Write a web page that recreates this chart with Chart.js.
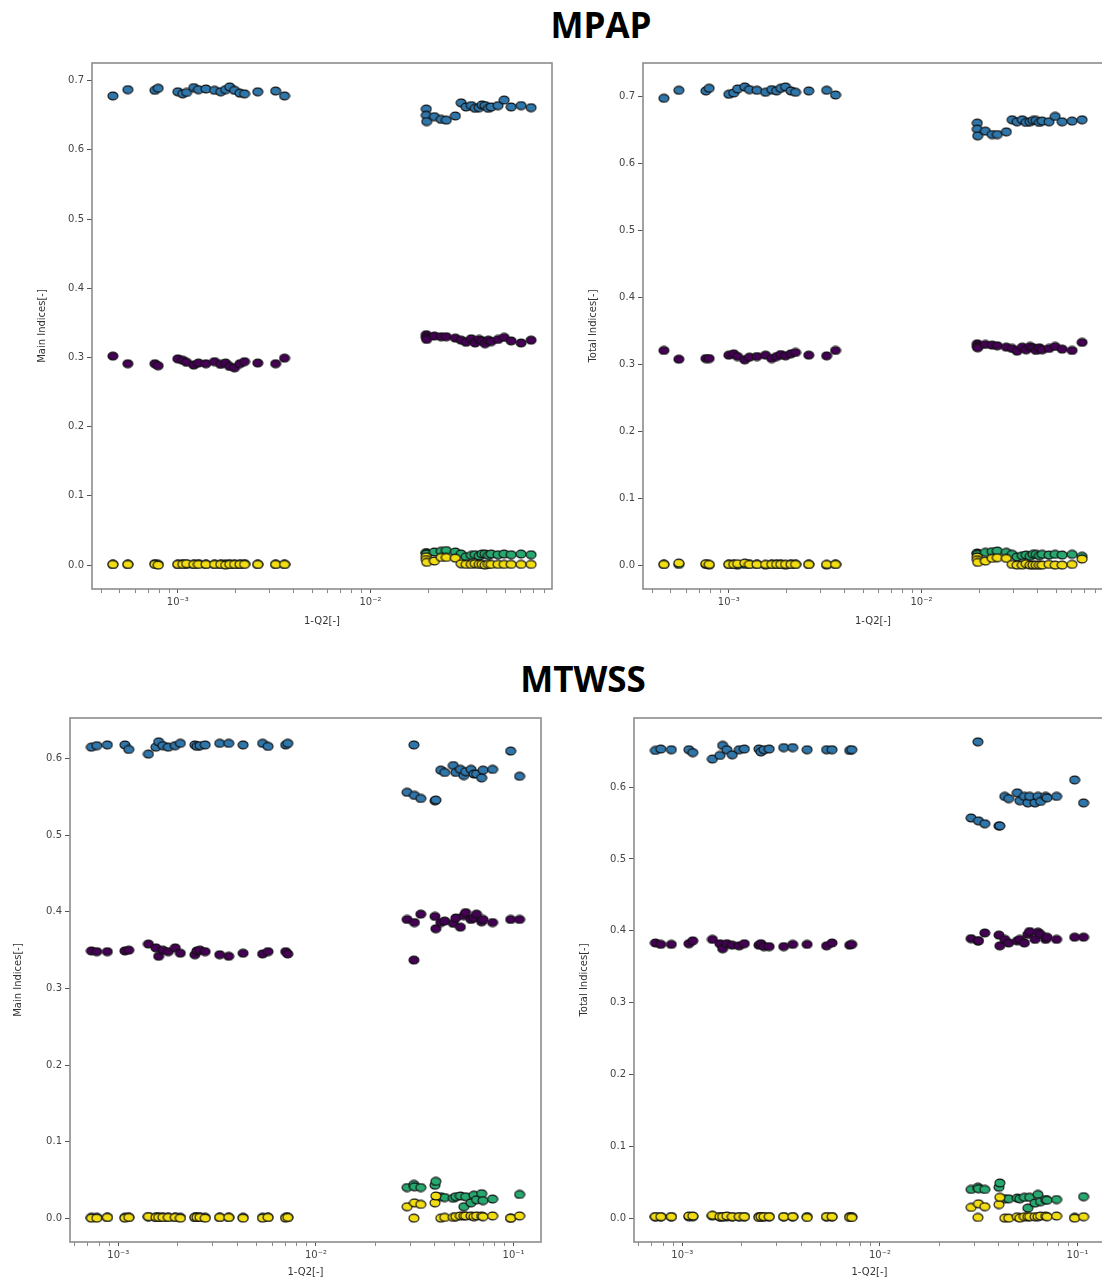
<!DOCTYPE html>
<html>
<head>
<meta charset="utf-8">
<script src="https://cdn.jsdelivr.net/npm/chart.js@4/dist/chart.umd.min.js"></script>
<style>
  html, body { margin: 0; padding: 0; width: 1102px; height: 1279px; overflow: hidden; background: #fff; }
  .title { position: absolute; font-family: 'Open Sans', sans-serif; font-weight: 700; font-size: 35px;
           line-height: 1; white-space: nowrap; transform: translateX(-50%); color: #000; }
  canvas { position: absolute; }
</style>
</head>
<body>
<div class="title" style="left:601px; top:7px;">MPAP</div>
<div class="title" style="left:583px; top:661px;">MTWSS</div>
<canvas id="mpapMainChart"   width="528" height="581" style="left:32px;  top:50px;"></canvas>
<canvas id="mpapTotalChart"  width="528" height="581" style="left:583px; top:50px;"></canvas>
<canvas id="mtwssMainChart"  width="541" height="577" style="left:8px;   top:705px;"></canvas>
<canvas id="mtwssTotalChart" width="539" height="577" style="left:574px; top:705px;"></canvas>
<script>
// ---------------- MPAP: 1-Q2 of each surrogate model ----------------
const mpapQ = [
  4.6e-4, 5.5e-4, 7.6e-4, 7.9e-4, 1.00e-3, 1.06e-3, 1.11e-3, 1.21e-3, 1.28e-3, 1.40e-3,
  1.55e-3, 1.67e-3, 1.77e-3, 1.86e-3, 1.97e-3, 2.10e-3, 2.22e-3, 2.60e-3, 3.22e-3, 3.58e-3,
  0.0195, 0.0195, 0.0196, 0.0215, 0.0233, 0.0248, 0.0276, 0.0296, 0.0314, 0.0334,
  0.0350, 0.0367, 0.0380, 0.0394, 0.0410, 0.0424, 0.0460, 0.0495, 0.0538, 0.0606, 0.0683
];
// MPAP main (first-order) indices, one array per input parameter
const mpapMainA = [
  0.302, 0.291, 0.291, 0.288, 0.298, 0.296, 0.293, 0.289, 0.292, 0.291,
  0.294, 0.290, 0.292, 0.287, 0.285, 0.291, 0.294, 0.292, 0.291, 0.299,
  0.333, 0.329, 0.326, 0.331, 0.330, 0.330, 0.328, 0.325, 0.322, 0.327,
  0.321, 0.326, 0.324, 0.320, 0.325, 0.323, 0.326, 0.329, 0.324, 0.321, 0.325
];
const mpapMainB = [
  0.678, 0.687, 0.686, 0.689, 0.684, 0.681, 0.683, 0.690, 0.687, 0.688,
  0.686, 0.684, 0.687, 0.691, 0.686, 0.682, 0.681, 0.684, 0.685, 0.678,
  0.659, 0.650, 0.641, 0.648, 0.644, 0.643, 0.649, 0.668, 0.662, 0.664,
  0.660, 0.661, 0.665, 0.664, 0.660, 0.662, 0.664, 0.672, 0.662, 0.664, 0.661
];
const mpapMainC = [
  0.001, 0.001, 0.002, 0.001, 0.001, 0.002, 0.001, 0.001, 0.002, 0.001,
  0.001, 0.001, 0.002, 0.001, 0.001, 0.001, 0.002, 0.001, 0.001, 0.001,
  0.018, 0.017, 0.016, 0.019, 0.020, 0.021, 0.019, 0.016, 0.012, 0.014,
  0.015, 0.013, 0.016, 0.016, 0.014, 0.016, 0.015, 0.016, 0.015, 0.016, 0.015
];
const mpapMainD = [
  0.001, 0.001, 0.001, 0.000, 0.001, 0.001, 0.002, 0.001, 0.001, 0.001,
  0.001, 0.001, 0.000, 0.001, 0.001, 0.001, 0.001, 0.001, 0.001, 0.001,
  0.012, 0.008, 0.004, 0.006, 0.011, 0.011, 0.010, 0.002, 0.001, 0.001,
  0.002, 0.001, 0.001, 0.000, 0.001, 0.001, 0.001, 0.001, 0.001, 0.001, 0.001
];
// MPAP total indices
const mpapTotalA = [
  0.321, 0.308, 0.309, 0.309, 0.314, 0.316, 0.312, 0.307, 0.311, 0.312,
  0.314, 0.309, 0.312, 0.315, 0.313, 0.316, 0.318, 0.314, 0.313, 0.321,
  0.331, 0.327, 0.325, 0.330, 0.329, 0.328, 0.326, 0.324, 0.320, 0.326,
  0.322, 0.327, 0.325, 0.321, 0.325, 0.322, 0.324, 0.327, 0.323, 0.321, 0.333
];
const mpapTotalB = [
  0.697, 0.709, 0.708, 0.712, 0.703, 0.705, 0.711, 0.714, 0.710, 0.709,
  0.706, 0.710, 0.708, 0.712, 0.714, 0.708, 0.706, 0.708, 0.709, 0.702,
  0.660, 0.651, 0.641, 0.648, 0.643, 0.643, 0.647, 0.665, 0.662, 0.665,
  0.661, 0.662, 0.664, 0.664, 0.661, 0.663, 0.662, 0.670, 0.662, 0.663, 0.665
];
const mpapTotalC = [
  0.002, 0.002, 0.002, 0.001, 0.002, 0.002, 0.001, 0.002, 0.002, 0.002,
  0.001, 0.002, 0.002, 0.002, 0.001, 0.002, 0.002, 0.002, 0.001, 0.002,
  0.019, 0.018, 0.017, 0.020, 0.021, 0.022, 0.020, 0.017, 0.013, 0.015,
  0.016, 0.014, 0.017, 0.017, 0.015, 0.017, 0.016, 0.017, 0.016, 0.017, 0.014
];
const mpapTotalD = [
  0.002, 0.004, 0.003, 0.002, 0.002, 0.002, 0.003, 0.004, 0.002, 0.002,
  0.002, 0.002, 0.002, 0.002, 0.002, 0.002, 0.002, 0.002, 0.002, 0.002,
  0.013, 0.009, 0.005, 0.007, 0.011, 0.012, 0.011, 0.002, 0.001, 0.001,
  0.003, 0.001, 0.001, 0.001, 0.001, 0.001, 0.002, 0.001, 0.001, 0.002, 0.010
];

// ---------------- MTWSS: 1-Q2 of each surrogate model ----------------
const mtwssQ = [
  7.31e-4, 7.78e-4, 8.80e-4, 1.08e-3, 1.13e-3, 1.42e-3, 1.55e-3, 1.60e-3, 1.68e-3, 1.79e-3,
  1.94e-3, 2.06e-3, 2.44e-3, 2.50e-3, 2.59e-3, 2.75e-3, 3.26e-3, 3.62e-3, 4.28e-3, 5.37e-3,
  5.72e-3, 7.03e-3, 7.20e-3,
  0.0289, 0.0313, 0.0315, 0.0339, 0.0400, 0.0404, 0.0428, 0.0448, 0.0495, 0.0510,
  0.0538, 0.0560, 0.0572, 0.0609, 0.0630, 0.0649, 0.0689, 0.0700, 0.0783, 0.0966, 0.1072
];
// MTWSS main indices
const mtwssMainA = [
  0.349, 0.348, 0.348, 0.349, 0.350, 0.358, 0.353, 0.342, 0.350, 0.348,
  0.353, 0.346, 0.344, 0.349, 0.350, 0.348, 0.344, 0.342, 0.346, 0.345,
  0.348, 0.348, 0.345,
  0.390, 0.337, 0.386, 0.397, 0.394, 0.378, 0.386, 0.388, 0.385, 0.392,
  0.380, 0.395, 0.399, 0.390, 0.392, 0.397, 0.387, 0.390, 0.386, 0.390, 0.390
];
const mtwssMainB = [
  0.615, 0.617, 0.618, 0.618, 0.612, 0.606, 0.615, 0.622, 0.617, 0.615,
  0.617, 0.620, 0.618, 0.616, 0.617, 0.618, 0.620, 0.620, 0.618, 0.620,
  0.616, 0.618, 0.620,
  0.556, 0.618, 0.552, 0.548, 0.545, 0.546, 0.585, 0.582, 0.591, 0.582,
  0.586, 0.578, 0.583, 0.586, 0.580, 0.580, 0.575, 0.585, 0.586, 0.610, 0.577
];
const mtwssMainC = [
  0.001, 0.001, 0.001, 0.001, 0.001, 0.002, 0.001, 0.001, 0.001, 0.001,
  0.001, 0.001, 0.001, 0.001, 0.001, 0.001, 0.001, 0.001, 0.001, 0.001,
  0.001, 0.001, 0.001,
  0.040, 0.044, 0.041, 0.040, 0.043, 0.048, 0.028, 0.027, 0.026, 0.028,
  0.029, 0.015, 0.028, 0.020, 0.030, 0.024, 0.032, 0.023, 0.025, 0.000, 0.031
];
const mtwssMainD = [
  0.000, 0.000, 0.001, 0.000, 0.001, 0.002, 0.001, 0.001, 0.001, 0.001,
  0.001, 0.000, 0.001, 0.001, 0.001, 0.000, 0.001, 0.001, 0.000, 0.000,
  0.001, 0.000, 0.001,
  0.015, 0.000, 0.020, 0.018, 0.020, 0.029, 0.000, 0.001, 0.001, 0.002,
  0.003, 0.003, 0.003, 0.003, 0.002, 0.003, 0.003, 0.002, 0.003, 0.000, 0.003
];
// MTWSS total indices
const mtwssTotalA = [
  0.383, 0.381, 0.381, 0.382, 0.386, 0.388, 0.382, 0.375, 0.382, 0.380,
  0.379, 0.382, 0.380, 0.382, 0.378, 0.378, 0.378, 0.381, 0.381, 0.379,
  0.383, 0.380, 0.381,
  0.389, 0.386, 0.386, 0.397, 0.394, 0.379, 0.388, 0.383, 0.386, 0.388,
  0.383, 0.395, 0.399, 0.388, 0.398, 0.395, 0.388, 0.391, 0.388, 0.391, 0.391
];
const mtwssTotalB = [
  0.651, 0.653, 0.652, 0.652, 0.648, 0.639, 0.644, 0.658, 0.652, 0.645,
  0.652, 0.653, 0.653, 0.649, 0.652, 0.653, 0.655, 0.655, 0.652, 0.652,
  0.652, 0.651, 0.652,
  0.557, 0.663, 0.553, 0.549, 0.546, 0.546, 0.587, 0.584, 0.592, 0.581,
  0.587, 0.578, 0.587, 0.578, 0.587, 0.580, 0.587, 0.585, 0.587, 0.610, 0.578
];
const mtwssTotalC = [
  0.002, 0.002, 0.002, 0.002, 0.002, 0.003, 0.002, 0.002, 0.002, 0.002,
  0.002, 0.002, 0.002, 0.002, 0.002, 0.002, 0.002, 0.002, 0.002, 0.002,
  0.002, 0.002, 0.002,
  0.040, 0.043, 0.041, 0.040, 0.043, 0.049, 0.027, 0.027, 0.028, 0.027,
  0.029, 0.014, 0.029, 0.021, 0.033, 0.023, 0.026, 0.025, 0.026, 0.001, 0.030
];
const mtwssTotalD = [
  0.002, 0.002, 0.002, 0.003, 0.003, 0.004, 0.002, 0.002, 0.003, 0.002,
  0.002, 0.002, 0.001, 0.002, 0.002, 0.002, 0.002, 0.002, 0.001, 0.002,
  0.002, 0.001, 0.001,
  0.015, 0.001, 0.020, 0.016, 0.019, 0.029, 0.000, 0.000, 0.002, 0.000,
  0.002, 0.002, 0.002, 0.002, 0.002, 0.003, 0.003, 0.002, 0.003, 0.000, 0.002
];

// Axis ticks
const yTicksMpap  = [0.0, 0.1, 0.2, 0.3, 0.4, 0.5, 0.6, 0.7];
const yTicksMtwss = [0.0, 0.1, 0.2, 0.3, 0.4, 0.5, 0.6];
const xTickValues = [1e-3, 1e-2, 1e-1];
const xTickLabels = ['10\u207B\u00B3', '10\u207B\u00B2', '10\u207B\u00B9'];

// Parameter colours (viridis order) and names
const paramColors = ['#440154', '#2f76ab', '#27a86f', '#f2dc12'];
const paramNames  = ['Parameter 1', 'Parameter 2', 'Parameter 3', 'Parameter 4'];

// Slightly oval marker sprite, filled with the parameter colour and outlined in black
function makeDot(color) {
  const c = document.createElement('canvas');
  c.width = 12; c.height = 10;
  const g = c.getContext('2d');
  g.beginPath();
  g.ellipse(6, 5, 5, 3.9, 0, 0, Math.PI * 2);
  g.fillStyle = color;
  g.fill();
  g.lineWidth = 1.1;
  g.strokeStyle = '#111';
  g.stroke();
  return c;
}
const dots = paramColors.map(makeDot);

// Grey frame around the plotting area
const framePlugin = {
  id: 'frame',
  beforeDatasetsDraw(chart) {
    const a = chart.chartArea, ctx = chart.ctx;
    ctx.save();
    ctx.strokeStyle = '#8c8c8c';
    ctx.lineWidth = 1.6;
    ctx.strokeRect(a.left, a.top, a.right - a.left, a.bottom - a.top);
    ctx.restore();
  }
};

function paddedLogRange(xs) {
  const lo = Math.log10(Math.min(...xs)), hi = Math.log10(Math.max(...xs));
  const m = (hi - lo) * 0.05;
  return [Math.pow(10, lo - m), Math.pow(10, hi + m)];
}
function paddedRange(series) {
  const all = [].concat(...series);
  const lo = Math.min(...all), hi = Math.max(...all);
  const m = (hi - lo) * 0.05;
  return [lo - m, hi + m];
}

const tickFont = { family: 'DejaVu Sans', size: 10 };
const titleFont = { family: 'DejaVu Sans', size: 10 };

function drawPanel(id, q, series, yTicks, yTitle, geom) {
  const [xmin, xmax] = paddedLogRange(q);
  const [ymin, ymax] = paddedRange(series);
  // draw yellow on top, then green, blue, purple underneath
  const datasets = series.map((ys, k) => ({
    label: paramNames[k],
    data: q.map((x, i) => ({ x: x, y: ys[i] })),
    pointStyle: dots[k],
    pointRadius: 5,
    order: 3 - k
  }));
  new Chart(document.getElementById(id), {
    type: 'scatter',
    data: { datasets },
    options: {
      responsive: false,
      animation: false,
      events: [],
      layout: { padding: { top: 13, right: 8, left: 0, bottom: 0 } },
      plugins: { legend: { display: false }, tooltip: { enabled: false } },
      scales: {
        x: {
          type: 'logarithmic',
          min: xmin, max: xmax,
          afterBuildTicks(scale) {
            const t = [];
            const k0 = Math.floor(Math.log10(scale.min)), k1 = Math.ceil(Math.log10(scale.max));
            for (let k = k0; k <= k1; k++) {
              for (let m = 1; m <= 9; m++) {
                const v = m * Math.pow(10, k);
                if (v >= scale.min && v <= scale.max) t.push({ value: v, major: m === 1 });
              }
            }
            scale.ticks = t;
          },
          afterFit(scale) { scale.height = geom.xAxisH; },
          ticks: {
            autoSkip: false, maxRotation: 0, minRotation: 0,
            color: '#444', font: tickFont, padding: 3,
            callback(value) {
              const i = xTickValues.findIndex(v => Math.abs(v - value) / v < 1e-6);
              return i >= 0 ? xTickLabels[i] : '';
            }
          },
          grid: {
            drawOnChartArea: false, tickLength: 4, tickColor: '#555',
            tickWidth: ctx => (ctx.tick && ctx.tick.major ? 1 : 0.7)
          },
          border: { display: false },
          title: { display: true, text: '1-Q2[-]', color: '#333', font: titleFont, padding: { top: 4, bottom: 4 } }
        },
        y: {
          type: 'linear',
          min: ymin, max: ymax,
          afterBuildTicks(scale) { scale.ticks = yTicks.map(v => ({ value: v })); },
          afterFit(scale) { scale.width = geom.yAxisW; },
          ticks: { color: '#444', font: tickFont, padding: 3, callback: v => v.toFixed(1) },
          grid: { drawOnChartArea: false, tickLength: 5, tickColor: '#555' },
          border: { display: false },
          title: { display: true, text: yTitle, color: '#333', font: titleFont, padding: { top: 4, bottom: 4 } }
        }
      }
    },
    plugins: [framePlugin]
  });
}

drawPanel('mpapMainChart', mpapQ, [mpapMainA, mpapMainB, mpapMainC, mpapMainD],
          yTicksMpap, 'Main Indices[-]', { yAxisW: 60, xAxisH: 42 });
drawPanel('mpapTotalChart', mpapQ, [mpapTotalA, mpapTotalB, mpapTotalC, mpapTotalD],
          yTicksMpap, 'Total Indices[-]', { yAxisW: 60, xAxisH: 42 });
drawPanel('mtwssMainChart', mtwssQ, [mtwssMainA, mtwssMainB, mtwssMainC, mtwssMainD],
          yTicksMtwss, 'Main Indices[-]', { yAxisW: 62, xAxisH: 40 });
drawPanel('mtwssTotalChart', mtwssQ, [mtwssTotalA, mtwssTotalB, mtwssTotalC, mtwssTotalD],
          yTicksMtwss, 'Total Indices[-]', { yAxisW: 60, xAxisH: 40 });
</script>
</body>
</html>
